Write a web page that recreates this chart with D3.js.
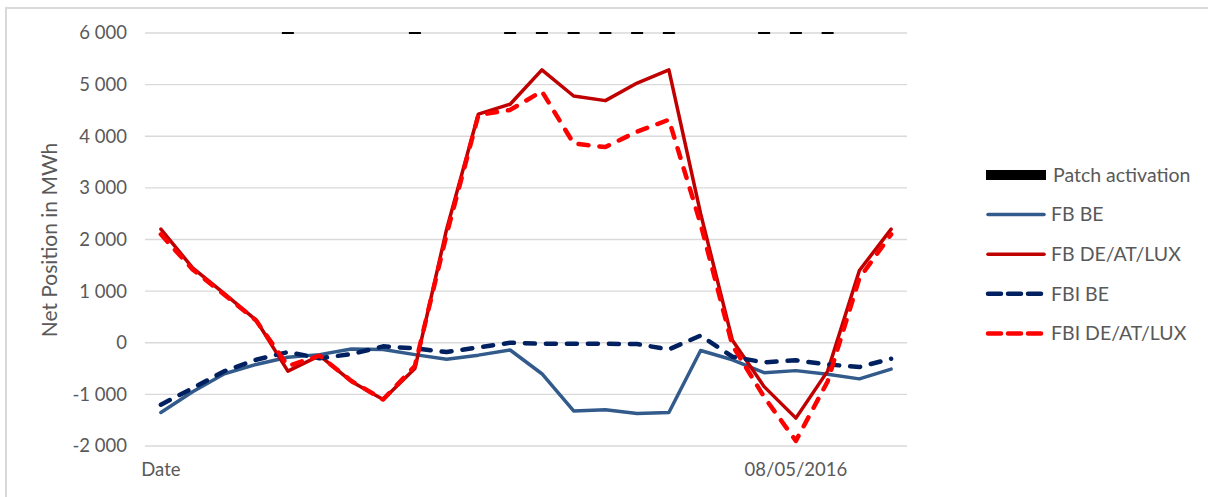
<!DOCTYPE html>
<html>
<head>
<meta charset="utf-8">
<script src="https://cdn.jsdelivr.net/npm/d3@7"></script>
<style>
  body { margin: 0; background: #fff; }
  text { font-family: Lato, "Open Sans", sans-serif; fill: #595959; }
</style>
</head>
<body>
<div id="chart"></div>
<script>
// hourly categories, only two of them carry a label
var hours = d3.range(24);
var xLabels = ["Date", "", "", "", "", "", "", "", "", "", "", "", "", "", "", "", "", "", "", "", "08/05/2016", "", "", ""];
var yTicks = [-2000, -1000, 0, 1000, 2000, 3000, 4000, 5000, 6000];

// hours where the patch was activated (drawn at the 6 000 line)
var patchHours = [4, 8, 11, 12, 13, 14, 15, 16, 19, 20, 21];
var patchLevel = 6000;

var fbBE     = [-1350, -950, -600, -420, -280, -230, -120, -130, -230, -320, -240, -140, -600, -1320, -1300, -1370, -1350, -150, -330, -580, -540, -610, -700, -510];
var fbDE     = [2200, 1450, 950, 440, -550, -250, -750, -1100, -500, 2200, 4430, 4620, 5285, 4780, 4690, 5030, 5285, 2500, 50, -850, -1460, -550, 1400, 2200];
var fbiBE    = [-1200, -880, -550, -330, -180, -300, -220, -70, -110, -180, -90, 0, -20, -20, -20, -25, -130, 140, -270, -380, -340, -420, -470, -310];
var fbiDE    = [2100, 1420, 930, 430, -450, -250, -740, -1100, -450, 2100, 4410, 4510, 4870, 3860, 3790, 4090, 4320, 2300, -50, -1050, -1900, -750, 1250, 2100];

var width = 1208, height = 497;

var svg = d3.select("#chart").append("svg")
    .attr("width", width)
    .attr("height", height);

// outer chart frame (only the left and top show in the shot)
svg.append("rect")
    .attr("x", 6).attr("y", 8)
    .attr("width", width).attr("height", height)
    .attr("fill", "none")
    .attr("stroke", "#d9d9d9")
    .attr("stroke-width", 2);

var x = d3.scaleBand().domain(hours).range([145, 907]);
var y = d3.scaleLinear().domain([-2000, 6000]).range([446, 33]);

// gridlines
svg.append("g").selectAll("line")
    .data(yTicks)
    .enter().append("line")
    .attr("x1", 145).attr("x2", 907)
    .attr("y1", function(d) { return y(d); })
    .attr("y2", function(d) { return y(d); })
    .attr("stroke", "#d9d9d9")
    .attr("stroke-width", 1.3);

// y axis labels, space as thousands separator, plain hyphen for minus
var yAxis = d3.axisLeft(y)
    .tickValues(yTicks)
    .tickSize(0)
    .tickPadding(0)
    .tickFormat(function(d) { return (d < 0 ? "-" : "") + d3.format(",")(Math.abs(d)).replace(/,/g, " "); });

svg.append("g")
    .attr("transform", "translate(127,0)")
    .call(yAxis)
    .call(function(g) { g.select(".domain").remove(); })
    .selectAll("text")
    .attr("font-size", 18.5)
    .attr("font-family", "Lato, 'Open Sans', sans-serif")
    .attr("fill", "#595959");

// x axis labels
var xAxis = d3.axisBottom(x)
    .tickSize(0)
    .tickPadding(0)
    .tickFormat(function(d) { return xLabels[d]; });

svg.append("g")
    .attr("transform", "translate(0,463)")
    .call(xAxis)
    .call(function(g) { g.select(".domain").remove(); })
    .selectAll("text")
    .attr("font-size", 18.5)
    .attr("font-family", "Lato, 'Open Sans', sans-serif")
    .attr("fill", "#595959");

// axis title
svg.append("text")
    .attr("transform", "translate(57,240) rotate(-90)")
    .attr("text-anchor", "middle")
    .attr("font-size", 21)
    .text("Net Position in MWh");

var cx = function(i) { return x(i) + x.bandwidth() / 2; };

var series = [
    {name: "FB BE",          values: fbBE,  color: "#325b8c", width: 3.5, dash: null},
    {name: "FB DE/AT/LUX",   values: fbDE,  color: "#c00000", width: 3.5, dash: null},
    {name: "FBI BE",         values: fbiBE, color: "#002060", width: 4.5, dash: "10,11"},
    {name: "FBI DE/AT/LUX",  values: fbiDE, color: "#ff0000", width: 4.5, dash: "10,11"}
];

var line = d3.line()
    .x(function(d, i) { return cx(i); })
    .y(function(d) { return y(d); });

svg.append("g").selectAll("path")
    .data(series)
    .enter().append("path")
    .attr("d", function(s) { return line(s.values); })
    .attr("fill", "none")
    .attr("stroke", function(s) { return s.color; })
    .attr("stroke-width", function(s) { return s.width; })
    .attr("stroke-dasharray", function(s) { return s.dash; })
    .attr("stroke-linecap", "round")
    .attr("stroke-linejoin", "round");

// patch activation marks
svg.append("g").selectAll("rect")
    .data(patchHours)
    .enter().append("rect")
    .attr("x", function(d) { return cx(d) - 6; })
    .attr("y", y(patchLevel) - 1)
    .attr("width", 12)
    .attr("height", 2)
    .attr("fill", "#000");

// legend
var legend = svg.append("g").attr("transform", "translate(986,175)");

legend.append("rect")
    .attr("x", 0).attr("y", -5)
    .attr("width", 60).attr("height", 10)
    .attr("fill", "#000");
legend.append("text")
    .attr("x", 67).attr("y", 0)
    .attr("dy", "0.35em")
    .attr("font-size", 19.5)
    .text("Patch activation");

var items = legend.selectAll("g.item")
    .data(series)
    .enter().append("g")
    .attr("class", "item")
    .attr("transform", function(d, i) { return "translate(0," + ((i + 1) * 39.6) + ")"; });

items.append("line")
    .attr("x1", 2).attr("x2", 58)
    .attr("stroke", function(s) { return s.color; })
    .attr("stroke-width", function(s) { return s.width; })
    .attr("stroke-dasharray", function(s) { return s.dash ? "13,7" : null; })
    .attr("stroke-linecap", "round");

items.append("text")
    .attr("x", 65).attr("y", 0)
    .attr("dy", "0.35em")
    .attr("font-size", 19.5)
    .text(function(s) { return s.name; });
</script>
</body>
</html>
